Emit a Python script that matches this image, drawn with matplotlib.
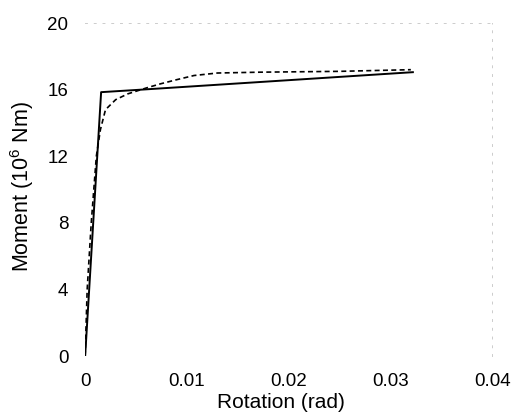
import matplotlib
matplotlib.use("Agg")
import matplotlib.pyplot as plt

# moment-rotation curves
rot_model = [0.0, 0.00157, 0.0055, 0.0322]
mom_model = [0.0, 15.85, 16.0, 17.05]

rot_test = [0.0, 0.0002, 0.0006, 0.0011, 0.0015, 0.002, 0.003, 0.0042,
            0.006, 0.0074, 0.009, 0.0107, 0.013, 0.0172, 0.025, 0.032]
mom_test = [0.0, 4.0, 8.0, 12.0, 13.6, 14.8, 15.4, 15.75,
            16.1, 16.35, 16.6, 16.85, 17.0, 17.05, 17.1, 17.2]

xticks = [0, 0.01, 0.02, 0.03, 0.04]
yticks = [0, 4, 8, 12, 16, 20]

plt.rcParams['font.family'] = ['Liberation Sans', 'DejaVu Sans']
plt.rcParams['mathtext.fontset'] = 'custom'
plt.rcParams['mathtext.rm'] = 'Liberation Sans'

fig = plt.figure(figsize=(5.16, 4.19), dpi=100)
ax = fig.add_axes([0.165, 0.150, 0.789, 0.795])

ax.plot(rot_model, mom_model, color='black', lw=1.4)
ax.plot(rot_test, mom_test, color='black', lw=1.2, ls=(0, (3, 2)))

ax.set_xlim(0, 0.04)
ax.set_ylim(0, 20)
ax.set_xticks(xticks)
ax.set_xticklabels(['0', '0.01', '0.02', '0.03', '0.04'])
ax.set_yticks(yticks)
ax.tick_params(length=0, labelsize=13.5, pad=12)

for s in ['left', 'bottom']:
    ax.spines[s].set_visible(False)
for s in ['top', 'right']:
    ax.spines[s].set_color('#cccccc')
    ax.spines[s].set_linewidth(0.7)
    ax.spines[s].set_linestyle((0, (2, 7)))

ax.set_xlabel('Rotation (rad)', fontsize=15)
ax.set_ylabel(r'Moment (10$^{\mathrm{6}}$ Nm)', fontsize=15.5)
ax.xaxis.label.set_va('center')
ax.yaxis.label.set_va('center')
ax.xaxis.set_label_coords(0.48, -0.14)
ax.yaxis.set_label_coords(-0.155, 0.51)

fig.savefig('out.png', dpi=100)
